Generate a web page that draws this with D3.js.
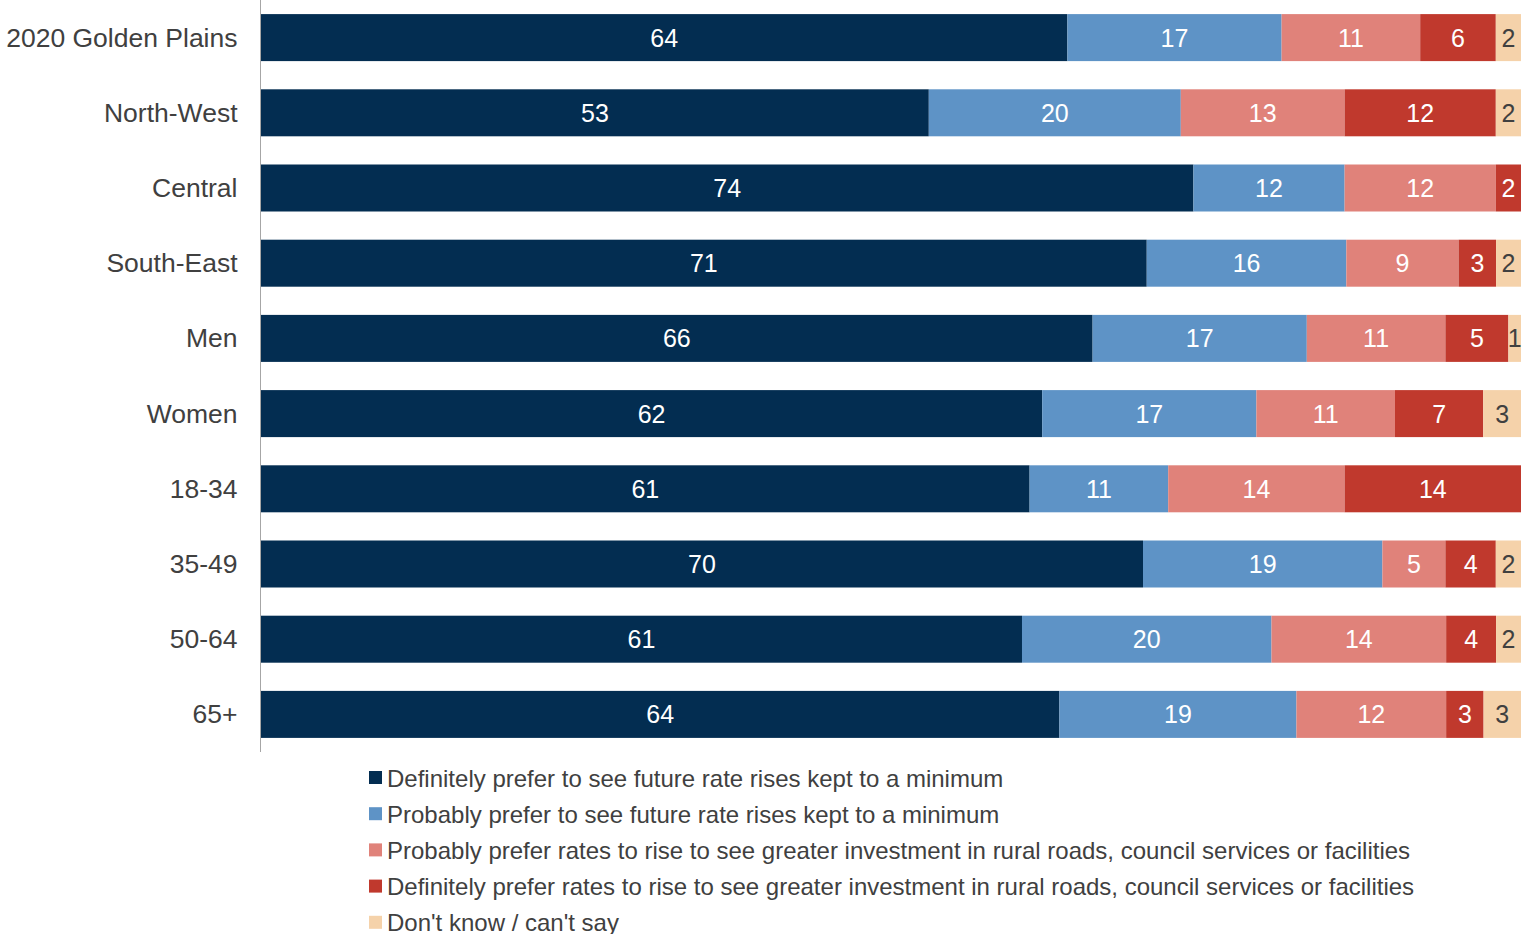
<!DOCTYPE html>
<html>
<head>
<meta charset="utf-8">
<script src="https://cdn.jsdelivr.net/npm/d3@7"></script>
<style>
  body { margin: 0; background: #fff; }
  text { font-family: "Liberation Sans", Arial, sans-serif; }
</style>
</head>
<body>
<svg></svg>
<script>
const width = 1522;
const height = 934;

// groups shown down the side
const categories = ["2020 Golden Plains", "North-West", "Central", "South-East", "Men",
  "Women", "18-34", "35-49", "50-64", "65+"];

// answer series, in stack order
const seriesNames = [
  "Definitely prefer to see future rate rises kept to a minimum",
  "Probably prefer to see future rate rises kept to a minimum",
  "Probably prefer rates to rise to see greater investment in rural roads, council services or facilities",
  "Definitely prefer rates to rise to see greater investment in rural roads, council services or facilities",
  "Don't know / can't say"
];
const seriesKeys = ["defMin", "probMin", "probRise", "defRise", "dontKnow"];

// percentages per category (same order as categories)
const defMin   = [64, 53, 74, 71, 66, 62, 61, 70, 61, 64];
const probMin  = [17, 20, 12, 16, 17, 17, 11, 19, 20, 19];
const probRise = [11, 13, 12, 9, 11, 11, 14, 5, 14, 12];
const defRise  = [6, 12, 2, 3, 5, 7, 14, 4, 4, 3];
const dontKnow = [2, 2, 0, 2, 1, 3, 0, 2, 2, 3];

const colors = ["#032d51", "#5e93c6", "#e0827a", "#c0392d", "#f5d2aa"];
const labelColors = ["#fff", "#fff", "#fff", "#fff", "#404040"];

const rows = categories.map((c, i) => ({
  cat: c,
  defMin: defMin[i], probMin: probMin[i], probRise: probRise[i],
  defRise: defRise[i], dontKnow: dontKnow[i]
}));

const margin = { left: 261, right: 1, top: 0 };
const plotBottom = 752;

const svg = d3.select("svg").attr("width", width).attr("height", height);

const x = d3.scaleLinear().domain([0, 1]).range([margin.left, width - margin.right]);
const y = d3.scaleBand().domain(categories).range([margin.top, plotBottom])
  .paddingInner(0.375).paddingOuter(0.1875);

// each row shown as shares of its own total
const stacked = d3.stack().keys(seriesKeys).offset(d3.stackOffsetExpand)(rows);

const layer = svg.append("g").selectAll("g")
  .data(stacked)
  .join("g")
  .attr("fill", (d, i) => colors[i]);

layer.selectAll("rect")
  .data(d => d)
  .join("rect")
  .attr("x", d => x(d[0]))
  .attr("y", d => y(d.data.cat))
  .attr("width", d => Math.max(0, x(d[1]) - x(d[0])))
  .attr("height", y.bandwidth());

layer.each(function(s, i) {
  d3.select(this).selectAll("text")
    .data(s.filter(d => d.data[s.key] > 0))
    .join("text")
    .attr("x", d => (x(d[0]) + x(d[1])) / 2)
    .attr("y", d => y(d.data.cat) + y.bandwidth() / 2)
    .attr("dy", "0.36em")
    .attr("text-anchor", "middle")
    .attr("fill", labelColors[i])
    .style("font-size", "25px")
    .text(d => d.data[s.key]);
});

// category axis
const yAxis = svg.append("g")
  .attr("transform", `translate(${margin.left - 0.5},0)`)
  .call(d3.axisLeft(y).tickSize(0).tickPadding(23));
yAxis.select(".domain").attr("stroke", "#a6a6a6").attr("d", `M0,0V${plotBottom}`);
yAxis.selectAll("text")
  .attr("fill", "#404040")
  .attr("dy", "0.34em")
  .style("font-size", "26.5px")
  .style("font-family", "'Liberation Sans', Arial, sans-serif");

// legend
const legend = svg.append("g").attr("transform", "translate(369,778)");
const item = legend.selectAll("g")
  .data(seriesNames)
  .join("g")
  .attr("transform", (d, i) => `translate(0,${i * 36.2})`);
item.append("rect")
  .attr("x", 0).attr("y", -7)
  .attr("width", 13).attr("height", 13)
  .attr("fill", (d, i) => colors[i]);
item.append("text")
  .attr("x", 18)
  .attr("dy", "0.36em")
  .attr("fill", "#404040")
  .style("font-size", "24px")
  .text(d => d);
</script>
</body>
</html>
